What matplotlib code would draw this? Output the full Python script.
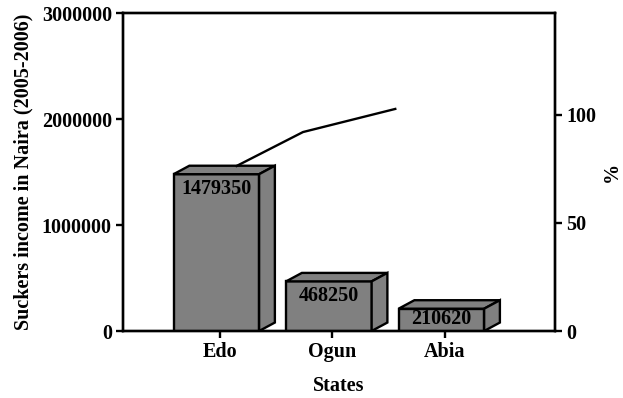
import matplotlib.pyplot as plt
import numpy as np

plt.rcParams['font.family'] = ['Liberation Serif', 'DejaVu Serif']
plt.rcParams['font.weight'] = 'bold'
plt.rcParams['axes.labelweight'] = 'bold'

states = ['Edo', 'Ogun', 'Abia']
income = [1479350, 468250, 210620]
# cumulative percentage line, as drawn on the right axis
line_x = [0.15, 0.74, 1.56]
line_pct = [76.4, 92.1, 102.8]

fig = plt.figure(figsize=(6.23, 3.98), dpi=100)
ax = fig.add_axes([0.1974, 0.1683, 0.6935, 0.799])

x = np.arange(len(states))
w = 0.76
dx = 0.14
dy = 80000
grey = '#808080'
fs = 14.5

ax.bar(x - 0.03, income, width=w, color=grey, edgecolor='black', linewidth=1.7, zorder=3)
for xi, v in zip(x - 0.03, income):
    l, r = xi - w / 2, xi + w / 2
    # top face
    ax.fill([l, r, r + dx, l + dx], [v, v, v + dy, v + dy],
            facecolor=grey, edgecolor='black', linewidth=1.7, zorder=3)
    # side face
    ax.fill([r, r + dx, r + dx, r], [0, dy, v + dy, v],
            facecolor=grey, edgecolor='black', linewidth=1.7, zorder=3)
    ax.text(xi, max(v - 140000, v / 2 + 10000), f'{v}', ha='center', va='center',
            fontsize=fs, zorder=4)

ax.set_xlim(-0.86, 2.98)
ax.set_ylim(0, 3000000)
ax.set_yticks([0, 1000000, 2000000, 3000000])
ax.set_yticklabels(['0', '1000000', '2000000', '3000000'])
ax.set_xticks(x)
ax.set_xticklabels(states)
ax.set_ylabel('Suckers income in Naira (2005-2006)', fontsize=fs, labelpad=6)
ax.set_xlabel('States', fontsize=fs, labelpad=10)
ax.tick_params(labelsize=fs, width=1.7, length=5, direction='out', pad=3)

ax2 = ax.twinx()
ax2.plot(line_x, line_pct, color='black', linewidth=1.7)
ax2.set_ylim(0, 147.2)
ax2.set_yticks([0, 50, 100])
ax2.set_ylabel('%', fontsize=fs, labelpad=4)
ax2.tick_params(labelsize=fs, width=1.7, length=5, direction='out', pad=3)

for a in (ax, ax2):
    for s in a.spines.values():
        s.set_linewidth(1.7)

fig.savefig('out.png', dpi=100)
